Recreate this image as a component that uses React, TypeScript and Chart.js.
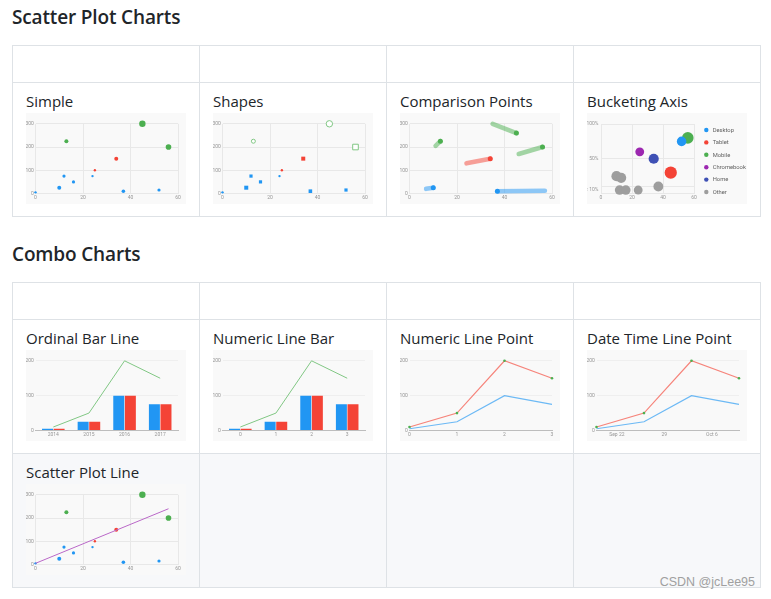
import React, { useEffect, useRef } from 'react';
import { Chart, registerables } from 'chart.js';

Chart.register(...registerables);

// ---------------- data ----------------
const SCATTER_X = [0, 10, 12, 13, 16, 24, 25, 34, 37, 45, 52, 56];
const SCATTER_Y = [5, 25, 75, 225, 50, 75, 100, 150, 10, 300, 15, 200];
const SCATTER_R = [3, 5, 4, 5, 4, 3, 3, 5, 4.5, 8, 4, 7];
const SHAPE_KIND = ['circle', 'rect', 'rect', 'circle', 'rect', 'circle', 'circle', 'rect', 'rect', 'circle', 'rect', 'rect'];
const SHAPE_HOLLOW = [false, false, false, true, false, false, false, false, false, true, false, true];

const COMP_X = [10, 13, 34, 37, 45, 56];
const COMP_Y = [25, 225, 150, 10, 260, 200];
const COMP_X_START = [7, 11, 24, 37, 35, 46];
const COMP_Y_START = [20, 205, 130, 10, 300, 170];
const COMP_X_END = [10, 13, 34, 57, 45, 56];
const COMP_Y_END = [25, 225, 150, 12, 260, 200];

const DEVICE_LABELS = ['Desktop', 'Tablet', 'Mobile', 'Chromebook', 'Home', 'Other'];
const DESKTOP_PTS = [[52, 0.75, 14]];
const TABLET_PTS = [[45, 0.3, 18]];
const MOBILE_PTS = [[56, 0.8, 17]];
const CHROMEBOOK_PTS = [[25, 0.6, 13]];
const HOME_PTS = [[34, 0.5, 15]];
const OTHER_PTS = [[10, 0.25, 15], [12, 0.075, 14], [13, 0.225, 15], [16, 0.03, 14], [24, 0.04, 13], [37, 0.1, 14.5]];
const BUCKET_THRESHOLD = 0.1;
const BUCKET_Y_TICKS = [0, 0.05, 0.1, 0.5, 1];
const BUCKET_Y_LABELS = ['', '< 10%', '', '50%', '100%'];

const YEARS = ['2014', '2015', '2016', '2017'];
const NUMERIC_LABELS = ['0', '1', '2', '3'];
const BAR_DESKTOP = [5, 25, 100, 75];
const BAR_TABLET = [5, 25, 100, 75];
const BAR_MOBILE_LINE = [10, 50, 200, 150];

const NUMERIC_X = [0, 1, 2, 3];
const LINE_DESKTOP = [5, 25, 100, 75];
const LINE_TABLET = [10, 50, 200, 150];
const POINT_MOBILE = [10, 50, 200, 150];

const DATES = ['2017-09-19', '2017-09-26', '2017-10-03', '2017-10-10'];
const DATE_TICKS = ['2017-09-22', '2017-09-29', '2017-10-06'];
const DATE_TICK_LABELS = ['Sep 22', '29', 'Oct 6'];

const TREND_X = [0, 56];
const TREND_Y = [5, 240];

// ---------------- styles ----------------
const BLUE = '#2196F3';
const RED = '#F44336';
const GREEN = '#4CAF50';
const PURPLE = '#9C27B0';
const INDIGO = '#3F51B5';
const GRAY = '#9E9E9E';
const DEVICE_COLORS = [BLUE, RED, GREEN, PURPLE, INDIGO, GRAY];

const TICK_FONT = { family: 'Roboto', size: 5 };
const TICK_COLOR = '#969696';
const GRID = '#e8e8e8';
const GRID_FAINT = '#efefef';
const AXIS_DARK = '#bdbdbd';
const W_Y = 9.5;
const H_X = 10.5;
const PAD = { top: 10.8, right: 8, left: 0, bottom: 0 };
const PT_SCALE = 0.4;

const salesColor = (v: number) => (v < 100 ? BLUE : v < 200 ? RED : GREEN);
const dayOffset = (s: string) => (Date.parse(s) - Date.parse(DATES[0])) / 86400000;

function yLinear(max: number, step: number, grid = GRID, width = W_Y): any {
  return {
    type: 'linear', min: 0, max,
    ticks: { stepSize: step, font: TICK_FONT, color: TICK_COLOR, padding: 1.6 },
    grid: { color: grid, drawTicks: false },
    border: { display: false },
    afterFit: (a: any) => { a.width = width; },
  };
}

function xLinear(min: number, max: number, step: number, gridDisplay = true, border = GRID): any {
  return {
    type: 'linear', min, max,
    ticks: { stepSize: step, font: TICK_FONT, color: TICK_COLOR, padding: 1.5, maxRotation: 0, autoSkip: false },
    grid: { display: gridDisplay, color: GRID, drawTicks: false },
    border: { display: true, color: border },
    afterFit: (a: any) => { a.height = H_X; },
  };
}

function baseOptions(scales: any, padding: any = PAD): any {
  return {
    responsive: false,
    animation: false,
    devicePixelRatio: 1,
    events: [],
    layout: { padding },
    plugins: { legend: { display: false }, tooltip: { enabled: false } },
    scales,
  };
}

const scatterPoints = () => SCATTER_X.map((x, i) => ({ x, y: SCATTER_Y[i] }));

function simpleConfig(): any {
  return {
    type: 'scatter',
    data: {
      datasets: [{
        data: scatterPoints(),
        clip: false,
        pointRadius: SCATTER_R.map((r) => r * PT_SCALE),
        pointBackgroundColor: SCATTER_Y.map(salesColor),
        pointBorderWidth: 0,
      }],
    },
    options: baseOptions({ x: xLinear(0, 60, 20), y: yLinear(300, 100) }),
  };
}

function shapesConfig(): any {
  return {
    type: 'scatter',
    data: {
      datasets: [{
        data: scatterPoints(),
        clip: false,
        pointStyle: SHAPE_KIND,
        pointRadius: SCATTER_R.map((r, i) => r * PT_SCALE * (SHAPE_KIND[i] === 'rect' ? Math.SQRT2 : 1)),
        pointBackgroundColor: SCATTER_Y.map((v, i) => (SHAPE_HOLLOW[i] ? '#ffffff' : salesColor(v))),
        pointBorderColor: SCATTER_Y.map(() => '#81C784'),
        pointBorderWidth: SHAPE_HOLLOW.map((h) => (h ? 1 : 0)),
      }],
    },
    options: baseOptions({ x: xLinear(0, 60, 20), y: yLinear(300, 100) }),
  };
}

function comparisonConfig(): any {
  const light = (v: number) => (v < 100 ? 'rgba(33,150,243,0.5)' : v < 200 ? 'rgba(244,67,54,0.5)' : 'rgba(76,175,80,0.5)');
  const segs = COMP_X.map((_, i) => ({
    type: 'line',
    data: [{ x: COMP_X_START[i], y: COMP_Y_START[i] }, { x: COMP_X_END[i], y: COMP_Y_END[i] }],
    showLine: true,
    clip: false,
    borderColor: light(COMP_Y[i]),
    borderWidth: 4.6,
    borderCapStyle: 'round',
    pointRadius: 0,
  }));
  return {
    type: 'scatter',
    data: {
      datasets: [
        {
          data: COMP_X.map((x, i) => ({ x, y: COMP_Y[i] })),
          clip: false,
          pointRadius: 2.5,
          pointBackgroundColor: COMP_Y.map(salesColor),
          pointBorderWidth: 0,
        },
        ...segs,
      ],
    },
    options: baseOptions({ x: xLinear(0, 60, 20), y: yLinear(300, 100) }),
  };
}

const bucketLegend = {
  id: 'bucketLegend',
  afterDraw(chart: any) {
    const ctx = chart.ctx;
    const area = chart.chartArea;
    ctx.save();
    ctx.font = '5.8px Roboto';
    ctx.textBaseline = 'middle';
    ctx.textAlign = 'left';
    chart.data.datasets.forEach((ds: any, i: number) => {
      const cx = area.right + 12.3;
      const cy = area.top + 6 + i * 12.4;
      ctx.beginPath();
      ctx.fillStyle = ds.backgroundColor;
      ctx.arc(cx, cy, 2.2, 0, Math.PI * 2);
      ctx.fill();
      ctx.fillStyle = '#616161';
      ctx.fillText(ds.label, cx + 6.4, cy + 0.3);
    });
    ctx.restore();
  },
};

function bucketingConfig(): any {
  const series = [DESKTOP_PTS, TABLET_PTS, MOBILE_PTS, CHROMEBOOK_PTS, HOME_PTS, OTHER_PTS];
  const bucketY = (v: number) => (v < BUCKET_THRESHOLD ? BUCKET_Y_TICKS[1] : v);
  const y = {
    type: 'linear', min: 0, max: 1,
    afterBuildTicks: (a: any) => { a.ticks = BUCKET_Y_TICKS.map((value) => ({ value })); },
    ticks: { font: TICK_FONT, color: TICK_COLOR, padding: 2.5, callback: (_v: any, i: number) => BUCKET_Y_LABELS[i] },
    grid: { color: (c: any) => (c.tick && c.tick.value === BUCKET_Y_TICKS[1] ? 'rgba(0,0,0,0)' : GRID), drawTicks: false },
    border: { display: false },
    afterFit: (a: any) => { a.width = 14; },
  };
  return {
    type: 'bubble',
    data: {
      datasets: series.map((pts, i) => ({
        label: DEVICE_LABELS[i],
        backgroundColor: DEVICE_COLORS[i],
        borderWidth: 0,
        clip: false,
        data: pts.map(([px, py, r]) => ({ x: px, y: bucketY(py), r: r * 0.34 })),
      })),
    },
    options: baseOptions({ x: xLinear(0, 60, 20), y }, { top: 11, right: 53, left: 0, bottom: 0 }),
    plugins: [bucketLegend],
  };
}

function barLineConfig(labels: string[]): any {
  return {
    type: 'bar',
    data: {
      labels,
      datasets: [
        { type: 'line', data: BAR_MOBILE_LINE, clip: false, borderColor: '#81C784', borderWidth: 1, pointRadius: 0, tension: 0 },
        { data: BAR_DESKTOP, backgroundColor: BLUE, borderWidth: 0, categoryPercentage: 0.65, barPercentage: 0.95 },
        { data: BAR_TABLET, backgroundColor: RED, borderWidth: 0, categoryPercentage: 0.65, barPercentage: 0.95 },
      ],
    },
    options: baseOptions({
      x: {
        type: 'category', offset: true,
        ticks: { font: TICK_FONT, color: TICK_COLOR, padding: 1.3, maxRotation: 0, autoSkip: false },
        grid: { display: false, drawTicks: false },
        border: { display: true, color: AXIS_DARK },
        afterFit: (a: any) => { a.height = H_X; },
      },
      y: yLinear(200, 100, GRID_FAINT),
    }),
  };
}

function linePointConfig(xs: number[], xScale: any): any {
  return {
    type: 'line',
    data: {
      datasets: [
        { data: xs.map((x, i) => ({ x, y: POINT_MOBILE[i] })), clip: false, showLine: false, pointRadius: 1.3, pointBackgroundColor: GREEN, pointBorderWidth: 0 },
        { data: xs.map((x, i) => ({ x, y: LINE_TABLET[i] })), clip: false, borderColor: 'rgba(244,67,54,0.65)', borderWidth: 1.2, pointRadius: 0, tension: 0 },
        { data: xs.map((x, i) => ({ x, y: LINE_DESKTOP[i] })), clip: false, borderColor: 'rgba(33,150,243,0.65)', borderWidth: 1.2, pointRadius: 0, tension: 0 },
      ],
    },
    options: baseOptions({ x: xScale, y: yLinear(200, 100, GRID_FAINT) }),
  };
}

function numericLinePointConfig(): any {
  return linePointConfig(NUMERIC_X, xLinear(0, 3, 1, false, AXIS_DARK));
}

function dateLinePointConfig(): any {
  const xs = DATES.map(dayOffset);
  const x = xLinear(xs[0], xs[xs.length - 1], 7, false, AXIS_DARK);
  x.afterBuildTicks = (a: any) => { a.ticks = DATE_TICKS.map((d) => ({ value: dayOffset(d) })); };
  x.ticks.callback = (_v: any, i: number) => DATE_TICK_LABELS[i];
  return linePointConfig(xs, x);
}

function scatterLineConfig(): any {
  return {
    type: 'scatter',
    data: {
      datasets: [
        {
          data: TREND_X.map((x, i) => ({ x, y: TREND_Y[i] })),
          clip: false,
          showLine: true, borderColor: '#BA68C8', borderWidth: 1, pointRadius: 0,
        },
        {
          data: scatterPoints(),
          clip: false,
          pointRadius: SCATTER_R.map((r) => r * PT_SCALE),
          pointBackgroundColor: SCATTER_Y.map(salesColor),
          pointBorderWidth: 0,
        },
      ],
    },
    options: baseOptions({ x: xLinear(0, 60, 20), y: yLinear(300, 100) }),
  };
}

// ---------------- layout ----------------
const COLS = [12, 199, 386, 573, 760];
const T1_ROWS = [45, 82, 216];
const T2_ROWS = [282, 319, 453, 587];
const BORDER = '#dee2e6';
const TEXT = '#212529';
const FONT = '"Open Sans", "Noto Sans", sans-serif';

function MiniChart({ make, left, top }: { make: () => any; left: number; top: number }) {
  const ref = useRef<HTMLCanvasElement | null>(null);
  useEffect(() => {
    const chart = new Chart(ref.current as HTMLCanvasElement, make());
    return () => chart.destroy();
  }, []);
  return (
    <canvas
      ref={ref}
      width={160}
      height={91}
      style={{ position: 'absolute', left, top, width: 160, height: 91, background: '#f9f9f9' }}
    />
  );
}

function Cells({ rows, shaded }: { rows: number[]; shaded?: number }) {
  const out: any[] = [];
  for (let r = 0; r < rows.length - 1; r++) {
    for (let c = 0; c < COLS.length - 1; c++) {
      out.push(
        <div
          key={r + '-' + c}
          style={{
            position: 'absolute', boxSizing: 'border-box',
            left: COLS[c], top: rows[r],
            width: COLS[c + 1] - COLS[c] + 1, height: rows[r + 1] - rows[r] + 1,
            border: '1px solid ' + BORDER,
            background: r === shaded ? '#f7f8fa' : 'transparent',
          }}
        />,
      );
    }
  }
  return <>{out}</>;
}

function Cell({ col, rowTop, title, make }: { col: number; rowTop: number; title: string; make: () => any }) {
  return (
    <>
      <div style={{
        position: 'absolute', left: COLS[col] + 14, top: rowTop + 12, fontFamily: FONT, fontSize: 15,
        lineHeight: '15px', color: TEXT, whiteSpace: 'nowrap',
      }}>{title}</div>
      <MiniChart make={make} left={COLS[col] + 14} top={rowTop + 31} />
    </>
  );
}

const headingStyle: any = {
  position: 'absolute', left: 12, fontFamily: FONT, fontWeight: 600, fontSize: 19,
  letterSpacing: '-0.15px', lineHeight: '19px', color: TEXT, whiteSpace: 'nowrap',
};

export default function App() {
  return (
    <div style={{ position: 'absolute', left: 0, top: 0, width: 771, height: 599, background: '#fff', overflow: 'hidden' }}>
      <div style={{ ...headingStyle, top: 8 }}>Scatter Plot Charts</div>
      <Cells rows={T1_ROWS} />
      <Cell col={0} rowTop={T1_ROWS[1]} title="Simple" make={simpleConfig} />
      <Cell col={1} rowTop={T1_ROWS[1]} title="Shapes" make={shapesConfig} />
      <Cell col={2} rowTop={T1_ROWS[1]} title="Comparison Points" make={comparisonConfig} />
      <Cell col={3} rowTop={T1_ROWS[1]} title="Bucketing Axis" make={bucketingConfig} />

      <div style={{ ...headingStyle, top: 245 }}>Combo Charts</div>
      <Cells rows={T2_ROWS} shaded={2} />
      <Cell col={0} rowTop={T2_ROWS[1]} title="Ordinal Bar Line" make={() => barLineConfig(YEARS)} />
      <Cell col={1} rowTop={T2_ROWS[1]} title="Numeric Line Bar" make={() => barLineConfig(NUMERIC_LABELS)} />
      <Cell col={2} rowTop={T2_ROWS[1]} title="Numeric Line Point" make={numericLinePointConfig} />
      <Cell col={3} rowTop={T2_ROWS[1]} title="Date Time Line Point" make={dateLinePointConfig} />
      <Cell col={0} rowTop={T2_ROWS[2]} title="Scatter Plot Line" make={scatterLineConfig} />

      <div style={{
        position: 'absolute', right: 16, top: 576, fontFamily: '"Liberation Sans", Arial, sans-serif',
        fontSize: 12.5, lineHeight: '12.5px', color: '#a0a0a0', whiteSpace: 'nowrap',
      }}>CSDN @jcLee95</div>
    </div>
  );
}
